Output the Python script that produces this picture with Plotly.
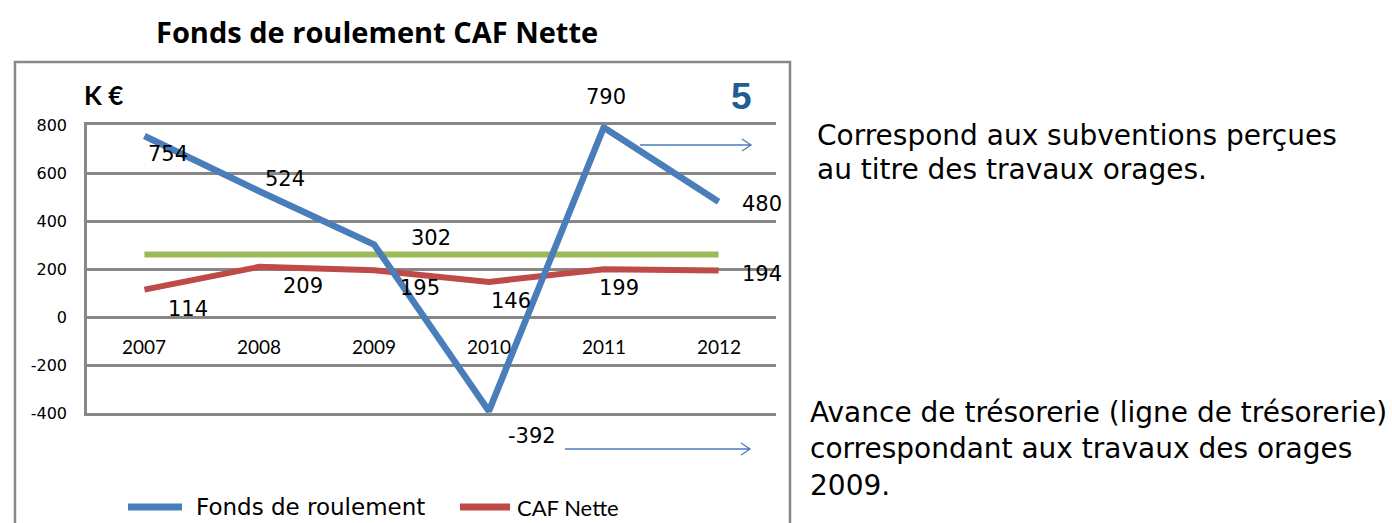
import plotly.graph_objects as go

years = ["2007", "2008", "2009", "2010", "2011", "2012"]
fonds_roulement = [754, 524, 302, -392, 790, 480]
caf_nette = [114, 209, 195, 146, 199, 194]
ligne_tresorerie = [260, 260, 260, 260, 260, 260]
y_ticks = [-400, -200, 0, 200, 400, 600, 800]

# label offsets (pixels, styling only)
fr_label_dx = [24, 26, 57, 43, 2, 43]
fr_label_dy = [-18, 12, 7, -25, 30, -2]
caf_label_dx = [44, 44, 46, 22, 15, 43]
caf_label_dy = [-19, -19, -18, -19, -19, -4]

W, H = 1392, 523
L, R, T, B = 87, 776, 125, 413
PW, PH = R - L, B - T

def px(x):
    return (x - L) / PW

def py(y):
    return 1 - (y - T) / PH

BLUE = "#4A7EBB"
RED = "#BE4B48"
GREEN = "#9BBB59"
GRID = "#878787"

fig = go.Figure()
fig.add_trace(go.Scatter(x=years, y=ligne_tresorerie, mode="lines",
                         line=dict(color=GREEN, width=6), showlegend=False, name="Ligne"))
fig.add_trace(go.Scatter(x=years, y=caf_nette, mode="lines",
                         line=dict(color=RED, width=6), showlegend=False, name="CAF Nette"))
fig.add_trace(go.Scatter(x=years, y=fonds_roulement, mode="lines",
                         line=dict(color=BLUE, width=6.5), showlegend=False, name="Fonds de roulement"))

ann = []
label_font = dict(family="DejaVu Sans", size=21, color="#000000")
for i, yr in enumerate(years):
    ann.append(dict(x=i, y=fonds_roulement[i], text=str(fonds_roulement[i]), showarrow=False,
                    xshift=fr_label_dx[i], yshift=fr_label_dy[i], font=label_font))
    ann.append(dict(x=i, y=caf_nette[i], text=str(caf_nette[i]), showarrow=False,
                    xshift=caf_label_dx[i], yshift=caf_label_dy[i], font=label_font))
    ann.append(dict(x=i, y=0, text=yr, showarrow=False, yshift=-29,
                    font=dict(family="Lato", size=19, color="#000000")))

# title and decorations
ann.append(dict(xref="paper", yref="paper", x=px(377), y=py(32), yanchor="middle",
                text="<b>Fonds de roulement CAF Nette</b>",
                showarrow=False, font=dict(family="Open Sans", size=29, color="#000000")))
ann.append(dict(xref="paper", yref="paper", x=px(82), y=py(95), xanchor="left", yanchor="middle",
                text="<b>K €</b>", showarrow=False, font=dict(family="Lato", size=26, color="#000000")))
ann.append(dict(xref="paper", yref="paper", x=px(741), y=py(96), xanchor="center", yanchor="middle",
                text="<b>5</b>", showarrow=False,
                font=dict(family="Liberation Sans", size=37, color="#215E8F")))

side_font = dict(family="DejaVu Sans", size=28, color="#000000")
side_lines = [("Correspond aux subventions perçues", 815, 135),
              ("au titre des travaux orages.", 815, 169),
              ("Avance de trésorerie (ligne de trésorerie)", 808, 412),
              ("correspondant aux travaux des orages", 808, 448),
              ("2009.", 808, 485)]
for txt, x, y in side_lines:
    ann.append(dict(xref="paper", yref="paper", x=px(x), y=py(y), xanchor="left", yanchor="middle",
                    text=txt, showarrow=False, font=side_font))

# legend (manual)
ann.append(dict(xref="paper", yref="paper", x=px(194), y=py(507), xanchor="left", yanchor="middle",
                text="Fonds de roulement", showarrow=False,
                font=dict(family="DejaVu Sans", size=23, color="#000000")))
ann.append(dict(xref="paper", yref="paper", x=px(515), y=py(507), xanchor="left", yanchor="middle",
                text="CAF Nette", showarrow=False, font=dict(family="Lato", size=22, color="#000000")))

shapes = [
    dict(type="rect", xref="paper", yref="paper", x0=px(15), x1=px(790), y0=py(62), y1=py(560),
         line=dict(color=GRID, width=2.5), layer="below"),
    dict(type="line", xref="paper", yref="paper", x0=px(128), x1=px(182), y0=py(507), y1=py(507),
         line=dict(color=BLUE, width=7)),
    dict(type="line", xref="paper", yref="paper", x0=px(460), x1=px(510), y0=py(507), y1=py(507),
         line=dict(color=RED, width=7)),
]

def arrow(x0, x1, y):
    return dict(type="path", xref="paper", yref="paper",
                path=f"M {px(x0)} {py(y)} L {px(x1)} {py(y)} M {px(x1-9)} {py(y-6)} L {px(x1)} {py(y)} L {px(x1-9)} {py(y+6)}",
                line=dict(color=BLUE, width=1.3))

shapes.append(arrow(640, 751, 145))
shapes.append(arrow(565, 750, 449))

fig.update_layout(
    width=W, height=H,
    margin=dict(l=L, r=W - R, t=T, b=H - B),
    paper_bgcolor="white", plot_bgcolor="white",
    showlegend=False,
    annotations=ann, shapes=shapes,
    xaxis=dict(type="category", range=[-0.5, 5.5], showgrid=False, showticklabels=False,
               showline=True, mirror=True, linecolor=GRID, linewidth=2.5, zeroline=False, ticks=""),
    yaxis=dict(range=[-400, 800], tickvals=y_ticks, ticktext=[str(v) for v in y_ticks],
               showgrid=True, gridcolor=GRID, gridwidth=2.5,
               zeroline=True, zerolinecolor=GRID, zerolinewidth=2.5,
               showline=True, linecolor=GRID, linewidth=2.5, ticks="", ticklabelstandoff=14,
               tickfont=dict(family="DejaVu Sans", size=16, color="#000000")),
)

fig.write_html("out.html", config={"displayModeBar": False},
               post_script="document.body.style.margin='0';")
